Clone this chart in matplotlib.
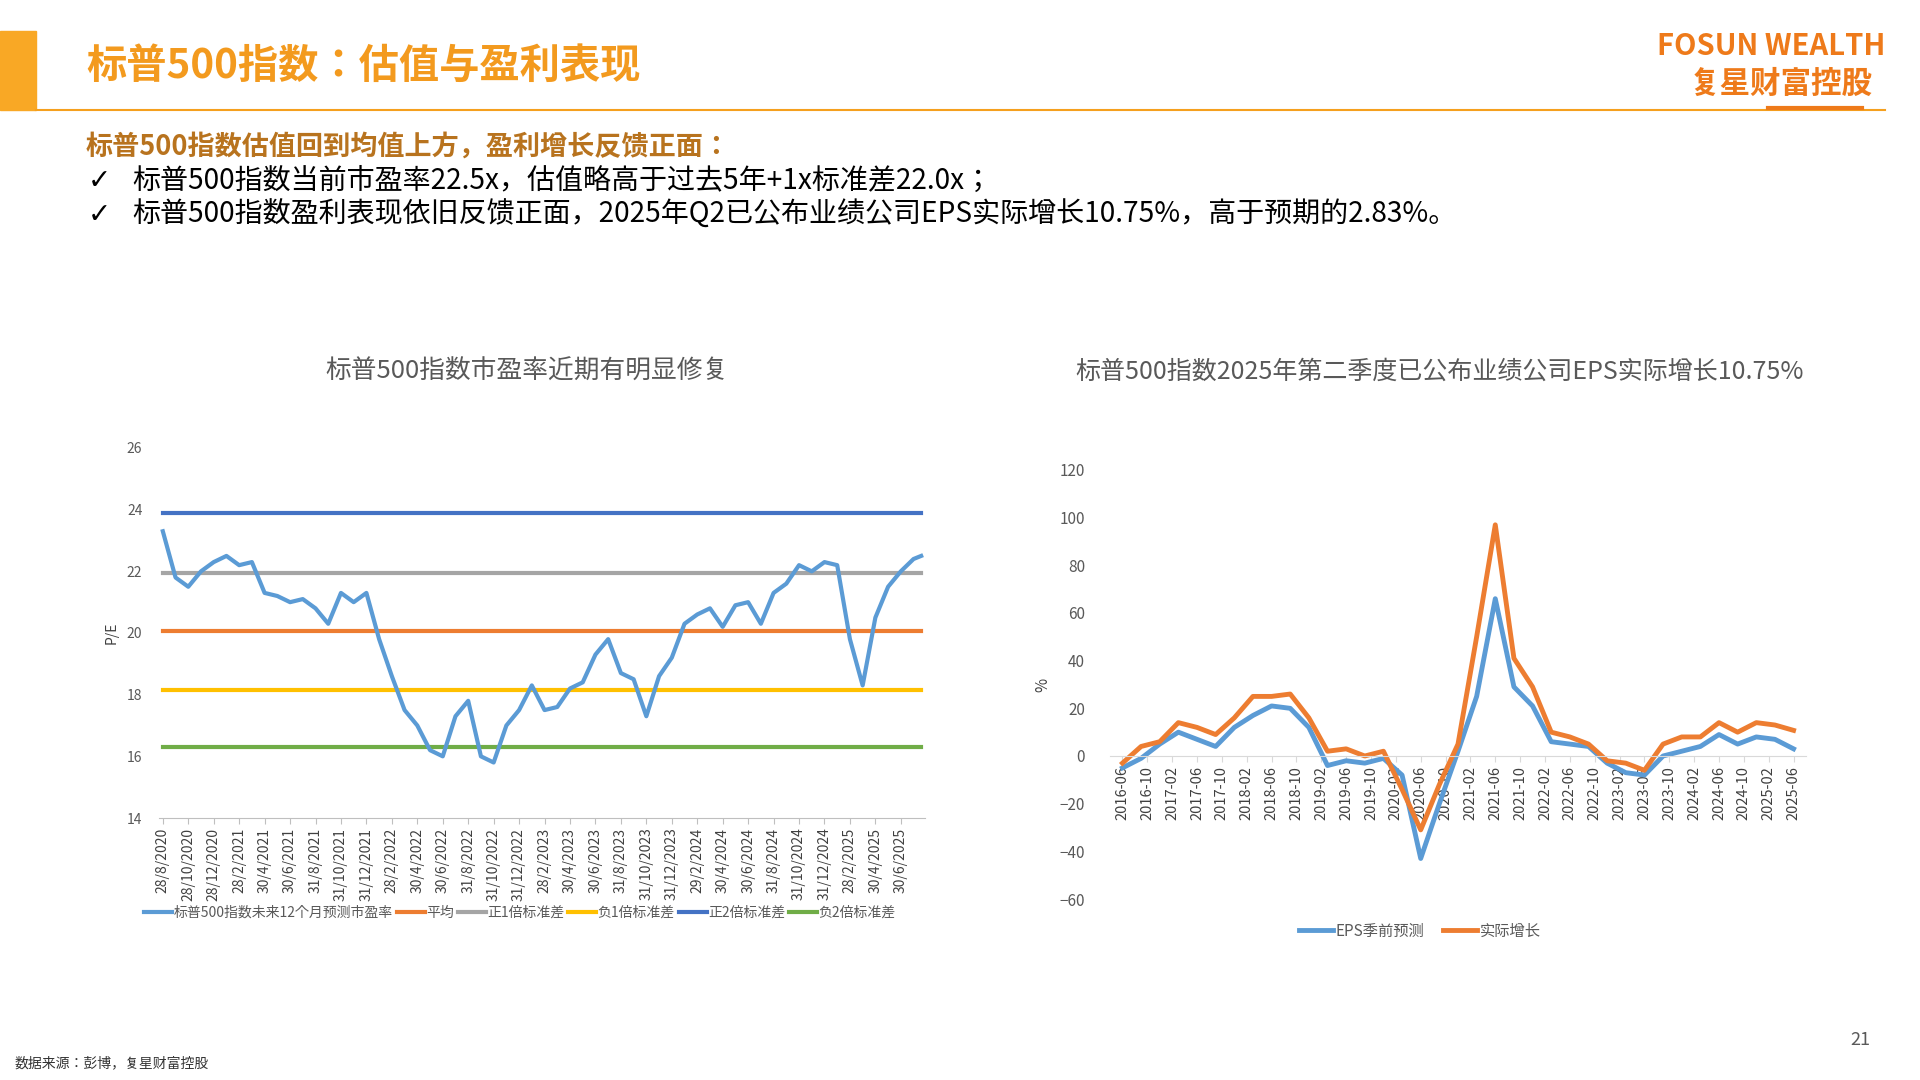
import matplotlib
matplotlib.use("Agg")
import matplotlib.pyplot as plt
from matplotlib import font_manager as fm
from matplotlib.lines import Line2D

cjk = [f.name for f in fm.fontManager.ttflist if 'CJK' in f.name]
pref = [n for n in ['Noto Sans CJK SC', 'Noto Sans CJK JP', 'Noto Sans CJK TC', 'Noto Sans CJK KR'] if n in cjk]
CJK = pref[0] if pref else (cjk[0] if cjk else 'DejaVu Sans')
plt.rcParams['font.family'] = [CJK, 'DejaVu Sans']

# ---------------- data ----------------
pe_months = list(range(60)) + [59.6]   # months since 28/8/2020
pe_values = [23.3, 21.8, 21.5, 22.0, 22.3, 22.5, 22.2, 22.3, 21.3, 21.2,
             21.0, 21.1, 20.8, 20.3, 21.3, 21.0, 21.3, 19.8, 18.6, 17.5,
             17.0, 16.2, 16.0, 17.3, 17.8, 16.0, 15.8, 17.0, 17.5, 18.3,
             17.5, 17.6, 18.2, 18.4, 19.3, 19.8, 18.7, 18.5, 17.3, 18.6,
             19.2, 20.3, 20.6, 20.8, 20.2, 20.9, 21.0, 20.3, 21.3, 21.6,
             22.2, 22.0, 22.3, 22.2, 19.8, 18.3, 20.5, 21.5, 22.0, 22.4, 22.5]
pe_mean = 20.05
pe_plus1 = 21.95
pe_minus1 = 18.15
pe_plus2 = 23.9
pe_minus2 = 16.3
pe_tick_labels = ["28/8/2020", "28/10/2020", "28/12/2020", "28/2/2021", "30/4/2021", "30/6/2021",
                  "31/8/2021", "31/10/2021", "31/12/2021", "28/2/2022", "30/4/2022", "30/6/2022",
                  "31/8/2022", "31/10/2022", "31/12/2022", "28/2/2023", "30/4/2023", "30/6/2023",
                  "31/8/2023", "31/10/2023", "31/12/2023", "29/2/2024", "30/4/2024", "30/6/2024",
                  "31/8/2024", "31/10/2024", "31/12/2024", "28/2/2025", "30/4/2025", "30/6/2025"]
pe_legend = ["标普500指数未来12个月预测市盈率", "平均", "正1倍标准差", "负1倍标准差", "正2倍标准差", "负2倍标准差"]

eps_months = list(range(0, 109, 3))   # months since 2016-06
eps_forecast = [-5, -1, 5, 10, 7, 4, 12, 17, 21, 20, 12, -4, -2, -3, -1, -8, -43, -20, 2,
                25, 66, 29, 21, 6, 5, 4, -3, -7, -8, 0, 2, 4, 9, 5, 8, 7, 3]
eps_actual = [-3, 4, 6, 14, 12, 9, 16, 25, 25, 26, 16, 2, 3, 0, 2, -14, -31, -12, 5,
              50, 97, 41, 29, 10, 8, 5, -2, -3, -6, 5, 8, 8, 14, 10, 14, 13, 10.75]
eps_tick_labels = ["2016-06", "2016-10", "2017-02", "2017-06", "2017-10", "2018-02", "2018-06",
                   "2018-10", "2019-02", "2019-06", "2019-10", "2020-02", "2020-06", "2020-10",
                   "2021-02", "2021-06", "2021-10", "2022-02", "2022-06", "2022-10", "2023-02",
                   "2023-06", "2023-10", "2024-02", "2024-06", "2024-10", "2025-02", "2025-06"]

# ---------------- figure ----------------
W, H = 1920, 1080
fig = plt.figure(figsize=(19.2, 10.8), dpi=100)
fig.patch.set_facecolor('white')

def fx(x): return x / W
def fy(y): return 1 - y / H

ORANGE = '#F5A01E'
fig.add_artist(plt.Rectangle((0, fy(110)), fx(36), (110 - 31) / H, color='#F9A825', transform=fig.transFigure))
fig.add_artist(Line2D([fx(36), fx(1885)], [fy(110), fy(110)], color=ORANGE, lw=1.5, transform=fig.transFigure))
fig.text(fx(86), fy(66), "标普500指数：估值与盈利表现", fontsize=29, fontweight='bold', color='#F39A1E', va='center')
fig.text(fx(1885), fy(46), "FOSUN WEALTH", fontsize=21, fontweight='bold', color='#EE7A1A', ha='right', va='center')
fig.text(fx(1873), fy(84), "复星财富控股", fontsize=22, fontweight='bold', color='#EE7A1A', ha='right', va='center')
fig.add_artist(Line2D([fx(1768), fx(1862)], [fy(108), fy(108)], color='#EE7A1A', lw=3, transform=fig.transFigure))

fig.text(fx(86), fy(147), "标普500指数估值回到均值上方，盈利增长反馈正面：", fontsize=19.5, fontweight='bold', color='#B8731E', va='center')
fig.text(fx(88), fy(181), "✓", fontsize=20, color='black', va='center', fontfamily='DejaVu Sans')
fig.text(fx(132), fy(181), "标普500指数当前市盈率22.5x，估值略高于过去5年+1x标准差22.0x；", fontsize=20.2, color='black', va='center')
fig.text(fx(88), fy(215), "✓", fontsize=20, color='black', va='center', fontfamily='DejaVu Sans')
fig.text(fx(132), fy(215), "标普500指数盈利表现依旧反馈正面，2025年Q2已公布业绩公司EPS实际增长10.75%，高于预期的2.83%。", fontsize=20.2, color='black', va='center')

fig.text(fx(527), fy(372), "标普500指数市盈率近期有明显修复", fontsize=18.5, color='#595959', ha='center', va='center')
fig.text(fx(1440), fy(372), "标普500指数2025年第二季度已公布业绩公司EPS实际增长10.75%", fontsize=18, color='#595959', ha='center', va='center')

fig.text(fx(15), fy(1063), "数据来源：彭博，复星财富控股", fontsize=10, color='#333333', va='center')
fig.text(fx(1860), fy(1040), "21", fontsize=13, color='#595959', ha='center', va='center')

# ---------------- left chart ----------------
axL = fig.add_axes([fx(159), fy(818), fx(925 - 159), (818 - 448) / H])
axL.set_facecolor('none')
n = pe_months[-1]
cols = ['#5B9BD5', '#ED7D31', '#A5A5A5', '#FFC000', '#4472C4', '#70AD47']
for val, c in zip([pe_plus2, pe_plus1, pe_mean, pe_minus1, pe_minus2],
                  ['#4472C4', '#A5A5A5', '#ED7D31', '#FFC000', '#70AD47']):
    axL.plot([0, n], [val, val], color=c, lw=3)
axL.plot(pe_months, pe_values, color='#5B9BD5', lw=3)
axL.set_xlim(-0.3, n + 0.3)
axL.set_ylim(14, 26)
axL.set_yticks(range(14, 27, 2))
axL.set_xticks([2 * i for i in range(len(pe_tick_labels))])
axL.set_xticklabels(pe_tick_labels, rotation=90, fontsize=10, color='#404040')
axL.tick_params(axis='y', length=0, labelsize=10, labelcolor='#595959', pad=12)
axL.tick_params(axis='x', length=4, color='#BFBFBF', pad=3)
for s in ['top', 'right', 'left']:
    axL.spines[s].set_visible(False)
axL.spines['bottom'].set_color('#BFBFBF')
axL.set_ylabel("P/E", fontsize=10, color='#404040', labelpad=6)
handles = [Line2D([], [], color=c, lw=3) for c in cols]
fig.legend(handles, pe_legend, loc='center', bbox_to_anchor=(fx(520), fy(913)), ncol=6,
           frameon=False, fontsize=10, handlelength=2.0, handletextpad=0.1, columnspacing=0.3,
           labelcolor='#595959')

# ---------------- right chart ----------------
axR = fig.add_axes([fx(1110), fy(899), fx(1806 - 1110), (899 - 470) / H])
axR.set_facecolor('none')
axR.spines['bottom'].set_position(('data', 0))
axR.plot(eps_months, eps_forecast, color='#5B9BD5', lw=3.5)
axR.plot(eps_months, eps_actual, color='#ED7D31', lw=3.5)
axR.set_xlim(-2, 110)
axR.set_ylim(-60, 120)
axR.set_yticks(range(-60, 121, 20))
axR.set_xticks([4 * i for i in range(len(eps_tick_labels))])
axR.set_xticklabels(eps_tick_labels, rotation=90, fontsize=10.5, color='#404040')
axR.spines['bottom'].set_color('#D9D9D9')
for s in ['top', 'right', 'left']:
    axR.spines[s].set_visible(False)
axR.tick_params(axis='x', length=4, color='#D9D9D9', pad=3)
axR.tick_params(axis='y', length=0, labelsize=11, labelcolor='#595959', pad=18)
axR.set_ylabel("%", fontsize=11, color='#404040', labelpad=6)
fig.legend([Line2D([], [], color='#5B9BD5', lw=3.5), Line2D([], [], color='#ED7D31', lw=3.5)],
           ["EPS季前预测", "实际增长"], loc='center', bbox_to_anchor=(fx(1420), fy(931)), ncol=2,
           frameon=False, fontsize=11, handlelength=2.2, handletextpad=0.2, columnspacing=1.2,
           labelcolor='#595959')

fig.savefig("out.png", dpi=100, facecolor='white')
